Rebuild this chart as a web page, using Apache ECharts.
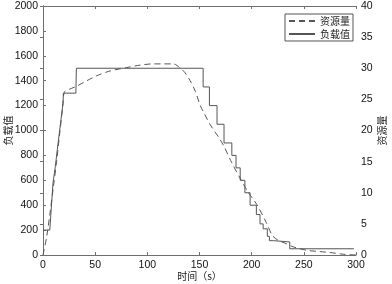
<!DOCTYPE html>
<html>
<head>
<meta charset="utf-8">
<script src="https://cdn.jsdelivr.net/npm/echarts@6/dist/echarts.min.js"></script>
<style>
  html, body { margin: 0; padding: 0; background: #fff; }
  #chart { width: 392px; height: 284px; }
</style>
</head>
<body>
<div id="chart"></div>
<script>
// time (s) / value pairs
const loadTime = [0, 6.5, 9.6, 11.8, 13.7, 15, 16.6, 17.5, 19.2, 19.5, 31.5, 32, 153.5, 153.5, 159.5, 159.5, 166.8, 166.8, 173.5, 173.5, 181, 181, 185, 185, 189, 189, 193.5, 193.5, 198.5, 198.5, 204.5, 204.5, 208, 208, 211, 211, 215, 215, 217, 217, 221, 221, 236.5, 236.5, 298];
const loadValue = [200, 200, 580, 710, 845, 860, 1045, 1060, 1220, 1300, 1300, 1500, 1500, 1350, 1350, 1200, 1200, 1050, 1050, 900, 900, 800, 800, 700, 700, 600, 600, 500, 500, 400, 400, 325, 325, 250, 250, 210, 210, 150, 150, 115, 115, 105, 105, 50, 50];

const resTime = [0, 3.5, 6.7, 10, 13, 16, 19, 20.5, 25, 32, 42, 53, 65, 80, 93, 105, 115, 125, 131, 136, 141, 146, 150.5, 155, 160, 168, 173, 181, 190, 197, 205, 214, 220, 226, 232, 240, 253, 265, 275, 288, 300];
const resValue = [0, 2.9, 6.7, 11, 15, 19.5, 24, 26.2, 26.6, 27.1, 28.0, 28.9, 29.6, 30.1, 30.5, 30.7, 30.7, 30.7, 30.1, 29.3, 28, 26.3, 24.1, 22.6, 21, 19, 17.6, 14.8, 12, 10, 8.1, 5.2, 3.1, 2.3, 1.9, 1.3, 0.75, 0.55, 0.4, 0.12, 0];

const seriesNames = ['资源量', '负载值'];

const pair = (xs, ys) => xs.map((x, i) => [x, ys[i]]);
const plain = (v) => String(v);

const axisColor = '#6e6e6e';
const textStyle = { color: '#111', fontSize: 10.5, fontFamily: 'Liberation Sans', formatter: plain };
const cjkName = { color: '#222', fontSize: 10, fontFamily: 'Noto Sans CJK SC' };

const myChart = echarts.init(document.getElementById('chart'), null, { renderer: 'canvas' });

const option = {
    animation: false,
    grid: { left: 43, right: 36, top: 6, bottom: 29, outerBoundsMode: 'none', containLabel: false },
    legend: {
        data: seriesNames,
        orient: 'vertical',
        right: 39,
        top: 14,
        itemWidth: 26,
        itemHeight: 8,
        itemGap: 3,
        padding: [2, 3, 2, 3],
        borderColor: '#555',
        borderWidth: 1,
        backgroundColor: '#fff',
        itemStyle: { opacity: 0 },
        textStyle: cjkName
    },
    xAxis: [{
        type: 'value',
        min: 0,
        max: 300,
        interval: 50,
        name: '时间（s）',
        nameLocation: 'middle',
        nameGap: 16,
        nameMoveOverlap: false,
        nameTextStyle: cjkName,
        axisLine: { lineStyle: { color: axisColor } },
        axisTick: { inside: true, length: 3, lineStyle: { color: axisColor } },
        axisLabel: Object.assign({ margin: 5 }, textStyle),
        splitLine: { show: false }
    }, {
        type: 'value',
        position: 'top',
        min: 0,
        max: 300,
        interval: 50,
        axisLine: { show: true, onZero: false, lineStyle: { color: axisColor } },
        axisTick: { inside: true, length: 3, lineStyle: { color: axisColor } },
        axisLabel: { show: false },
        splitLine: { show: false }
    }],
    yAxis: [{
        type: 'value',
        min: 0,
        max: 2000,
        interval: 200,
        name: '负载值',
        nameLocation: 'middle',
        nameGap: 30,
        nameMoveOverlap: false,
        nameTextStyle: cjkName,
        axisLine: { show: true, lineStyle: { color: axisColor } },
        axisTick: { show: true, inside: true, length: 3, lineStyle: { color: axisColor } },
        axisLabel: Object.assign({ margin: 5 }, textStyle),
        splitLine: { show: false }
    }, {
        type: 'value',
        position: 'right',
        min: 0,
        max: 40,
        interval: 5,
        name: '资源量',
        nameLocation: 'middle',
        nameGap: 21,
        nameMoveOverlap: false,
        nameTextStyle: cjkName,
        axisLine: { show: true, lineStyle: { color: axisColor } },
        axisTick: { show: true, inside: true, length: 3, lineStyle: { color: axisColor } },
        axisLabel: Object.assign({ margin: 5 }, textStyle),
        splitLine: { show: false }
    }],
    series: [{
        name: seriesNames[0],
        type: 'line',
        yAxisIndex: 1,
        data: pair(resTime, resValue),
        smooth: 0.3,
        symbol: 'none',
        lineStyle: { color: '#555', width: 1, type: [6, 4] },
        itemStyle: { color: '#555' }
    }, {
        name: seriesNames[1],
        type: 'line',
        yAxisIndex: 0,
        data: pair(loadTime, loadValue),
        symbol: 'none',
        lineStyle: { color: '#555', width: 1 },
        itemStyle: { color: '#555' }
    }]
};
myChart.setOption(option);
</script>
</body>
</html>
